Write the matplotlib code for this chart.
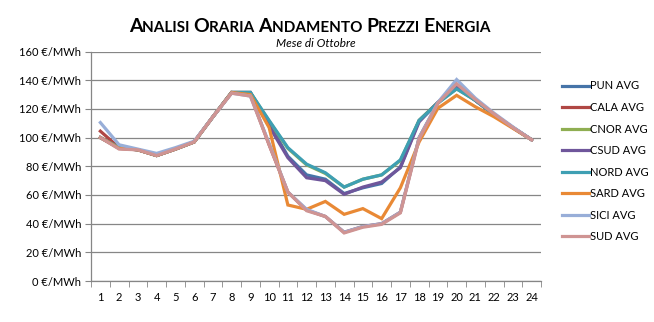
import matplotlib
matplotlib.use('Agg')
import matplotlib.pyplot as plt

plt.rcParams['font.family'] = ['Lato', 'DejaVu Sans']

hours = list(range(1, 25))

pun = [100, 93, 91.5, 87.5, 92, 97, 114.5, 131.5, 131.5, 110, 87, 74, 71, 61, 65, 68, 79.5, 112, 124.5, 136, 126, 116, 107, 98.5]
cala = [104.5, 93, 91.5, 87.5, 92, 97, 114.5, 131.5, 130, 95, 62, 49.5, 45, 34, 38, 40, 48, 100, 124, 137, 126, 116, 107, 98.5]
cnor = [100, 93, 91.5, 87.5, 92, 97, 114.5, 131.5, 131.5, 111.5, 92.5, 81, 75, 65.5, 71, 74, 84, 112, 124.5, 134, 126, 116, 107, 98.5]
csud = [100, 92.5, 91.5, 87.5, 92, 97, 114.5, 131.5, 131.5, 108, 86, 72, 70, 60.5, 65.5, 69, 79, 111, 124.5, 136, 126, 116, 107, 98.5]
nord = [100, 93, 91.5, 87.5, 92, 97, 114.5, 131.5, 131.5, 112, 93, 81.5, 75.5, 65.5, 71, 74, 84.5, 112, 124, 134, 126, 116, 107, 98.5]
sard = [100, 92.5, 91.5, 87.5, 92, 97, 114.5, 131.5, 130, 107, 53, 50, 55.5, 46.5, 50.5, 43.5, 65, 97, 120.5, 129.5, 121.5, 114.5, 106.5, 98.5]
sici = [110.5, 95, 92, 89, 93, 97.5, 114.5, 131, 129, 96, 62, 50, 45, 34, 38, 40, 48, 100, 124.5, 140.5, 127.5, 117, 107.5, 98.5]
sud = [100, 92, 91.5, 87.5, 92, 97, 114.5, 131, 129, 95, 62, 49, 45, 33.5, 37.5, 39.5, 47.5, 99, 124, 137.5, 126.5, 116.5, 107, 98.5]

labels = ['PUN AVG', 'CALA AVG', 'CNOR AVG', 'CSUD AVG', 'NORD AVG', 'SARD AVG', 'SICI AVG', 'SUD AVG']
series = [pun, cala, cnor, csud, nord, sard, sici, sud]
colors = ['#4674A8', '#B04744', '#8FAE52', '#6F569B', '#3E9FB3', '#E98935', '#98AED8', '#CF9493']

fig = plt.figure(figsize=(6.54, 3.22), dpi=100)
ax = fig.add_axes([91 / 654, 1 - 281 / 322, 450 / 654, 229.4 / 322])

for vals, lab, col in zip(series, labels, colors):
    ax.plot(hours, vals, color=col, lw=2.3, label=lab, solid_joinstyle='miter')

ax.set_xlim(0.5, 24.5)
ax.set_ylim(0, 160)
yt = list(range(0, 161, 20))
ax.set_yticks(yt)
ax.set_yticklabels([f'{v} €/MWh' for v in yt], fontsize=8)
ax.set_xticks(hours)
ax.set_xticklabels([str(h) for h in hours], fontsize=8)
ax.set_xticks([h + 0.5 for h in range(0, 25)], minor=True)
ax.tick_params(axis='x', which='major', length=0, pad=8)
ax.tick_params(axis='x', which='minor', length=4, color='#868686')
ax.tick_params(axis='y', length=4, color='#868686', pad=3)
ax.grid(axis='y', color='#868686', lw=0.9)
ax.set_axisbelow(True)
for s in ['top', 'right']:
    ax.spines[s].set_visible(False)
for s in ['left', 'bottom']:
    ax.spines[s].set_color('#868686')
    ax.spines[s].set_linewidth(0.9)

fig.legend(loc='upper left', bbox_to_anchor=(558 / 654, 1 - 76 / 322), frameon=False,
           fontsize=8, handlelength=2.4, handletextpad=0.1, labelspacing=0.95,
           borderaxespad=0)

# title in small caps, built piece by piece
words = ['Analisi', 'Oraria', 'Andamento', 'Prezzi', 'Energia']
pieces = []
for i, w in enumerate(words):
    pieces.append((w[0], 14))
    pieces.append((w[1:].upper() + (' ' if i < len(words) - 1 else ''), 11))
prev = None
texts = []
for txt, sz in pieces:
    if prev is None:
        t = fig.text(0.2, 1 - 32 / 322, txt, fontsize=sz, fontweight='bold', va='baseline', ha='left')
    else:
        t = ax.annotate(txt, xy=(1, 0), xycoords=prev, fontsize=sz, fontweight='bold',
                        va='bottom', ha='left', annotation_clip=False)
    texts.append(t)
    prev = t
r = fig.canvas.get_renderer()
x0 = texts[0].get_window_extent(r).x0
x1 = texts[-1].get_window_extent(r).x1
cx = 310
texts[0].set_x((cx - (x1 - x0) / 2) / 654)

fig.text(316 / 654, 1 - 47 / 322, 'Mese di Ottobre', fontsize=8.5, style='italic', ha='center', va='baseline')

fig.savefig('out.png', dpi=100)
